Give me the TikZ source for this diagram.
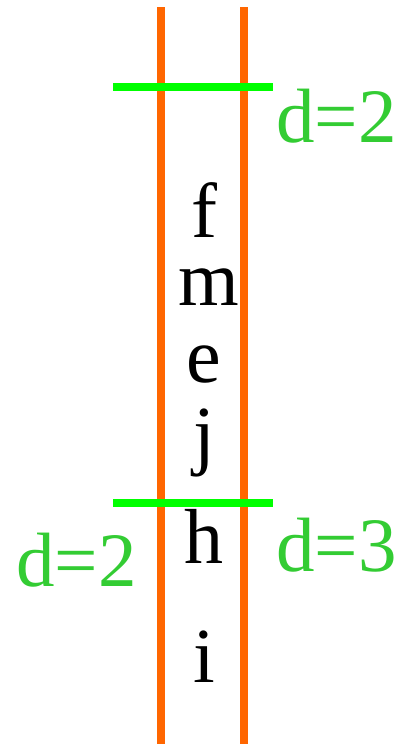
\documentclass[tikz,border=0pt]{standalone}
\usepackage{fontspec}
\setmainfont{Liberation Serif}
\definecolor{rail}{HTML}{FF6600}
\definecolor{cut}{HTML}{00FF00}
\definecolor{lbl}{HTML}{33CC33}
\begin{document}
\begin{tikzpicture}[x=1pt,y=-1pt,
  railline/.style={draw=rail,line width=8pt},
  cutline/.style={draw=cut,line width=8pt},
  letter/.style={inner sep=0pt,anchor=base,font=\fontsize{78}{78}\selectfont},
  dlabel/.style={inner sep=0pt,anchor=base west,text=lbl,font=\fontsize{77}{77}\selectfont}]
\useasboundingbox (0,0) rectangle (414,744);
\coordinate (l1) at (161,7);
\coordinate (l2) at (161,744);
\coordinate (r1) at (244,7);
\coordinate (r2) at (244,744);
\draw[railline] (l1) -- (l2);
\draw[railline] (r1) -- (r2);
\coordinate (t1) at (113,87);
\coordinate (t2) at (273,87);
\coordinate (b1) at (113,503);
\coordinate (b2) at (273,503);
\draw[cutline] (t1) -- (t2);
\draw[cutline] (b1) -- (b2);
\node[letter] (f) at (204,237.7) {f};
\node[letter] (m) at (208.5,305) {m};
\node[letter] (e) at (203.5,382.7) {e};
\node[letter] (j) at (204,460) {j};
\node[letter] (h) at (204,563.3) {h};
\node[letter] (i) at (204.5,682.7) {i};
\node[dlabel] (dtop) at (276,142.7) {d=2};
\node[dlabel] (dleft) at (16,586.7) {d=2};
\node[dlabel] (dright) at (276,571) {d=3};
\end{tikzpicture}
\end{document}
